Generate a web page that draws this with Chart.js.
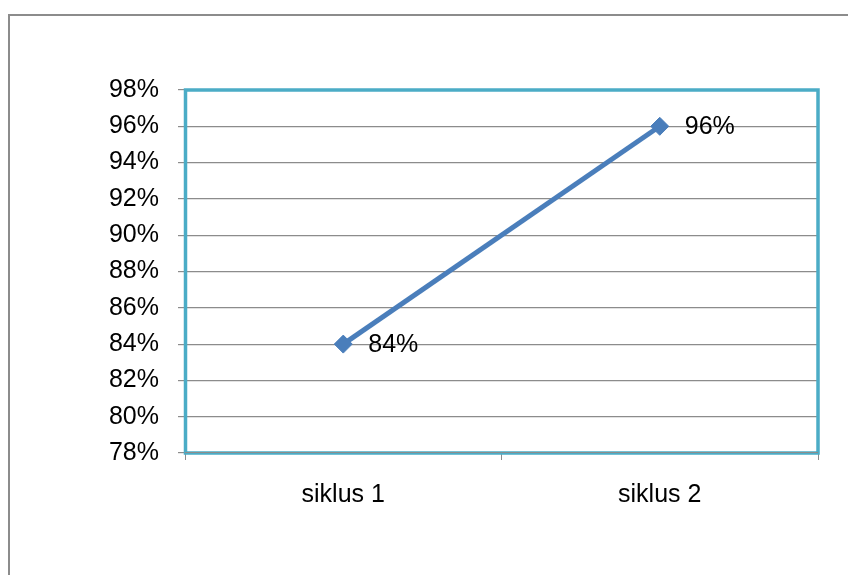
<!DOCTYPE html>
<html>
<head>
<meta charset="utf-8">
<script src="https://cdn.jsdelivr.net/npm/chart.js@4"></script>
<style>
html,body{margin:0;padding:0;background:#fff;}
#wrap{position:relative;width:848px;height:575px;}
</style>
</head>
<body>
<div id="wrap"><canvas id="c" width="848" height="575"></canvas></div>
<script>
const categories = ['siklus 1', 'siklus 2'];
const values = [84, 96];
const yMin = 78, yMax = 98, yStep = 2;

const FONT = 'Liberation Sans, Arial, sans-serif';

const frame = {
  id: 'frame',
  beforeDraw(chart) {
    const ctx = chart.ctx;
    ctx.save();
    ctx.fillStyle = '#fff';
    ctx.fillRect(0, 0, chart.width, chart.height);
    ctx.strokeStyle = '#8c8c8c';
    ctx.lineWidth = 2;
    ctx.strokeRect(9, 15, 900, 700);
    ctx.restore();
  },
  beforeDatasetsDraw(chart) {
    const a = chart.chartArea;
    const ctx = chart.ctx;
    ctx.save();
    ctx.strokeStyle = '#4BACC6';
    ctx.lineWidth = 3.5;
    ctx.strokeRect(a.left + 0.5, a.top, a.right - a.left - 0.5, a.bottom - a.top);
    ctx.strokeStyle = '#8c8c8c';
    ctx.lineWidth = 1;
    ctx.beginPath();
    ctx.moveTo(a.left, a.bottom - 0.5);
    ctx.lineTo(a.right, a.bottom - 0.5);
    ctx.stroke();
    ctx.restore();
  },
  afterDatasetsDraw(chart) {
    const ctx = chart.ctx;
    const meta = chart.getDatasetMeta(0);
    ctx.save();
    ctx.fillStyle = '#000';
    ctx.font = '25px ' + FONT;
    ctx.textAlign = 'left';
    ctx.textBaseline = 'middle';
    meta.data.forEach((pt, i) => {
      ctx.fillText(values[i] + '%', pt.x + 25, pt.y + 1);
    });
    ctx.restore();
  }
};

new Chart(document.getElementById('c'), {
  type: 'line',
  data: {
    labels: categories,
    datasets: [{
      data: values,
      borderColor: '#4A7EBB',
      backgroundColor: '#4A7EBB',
      borderWidth: 5,
      pointStyle: 'rectRot',
      pointRadius: 9,
      pointBorderWidth: 1,
      pointBackgroundColor: '#4A7EBB',
      pointBorderColor: '#4A7EBB',
      tension: 0
    }]
  },
  options: {
    responsive: false,
    animation: false,
    devicePixelRatio: 1,
    layout: { padding: { left: 0, top: 90, right: 30, bottom: 0 } },
    plugins: { legend: { display: false }, tooltip: { enabled: false } },
    scales: {
      x: {
        type: 'category',
        offset: true,
        grid: { offset: true, drawOnChartArea: false, drawTicks: true, tickLength: 7, color: '#8c8c8c', lineWidth: 1 },
        border: { display: false },
        ticks: { color: '#000', font: { family: FONT, size: 25 }, padding: 20, maxRotation: 0 },
        afterFit(s) { s.height = 122; }
      },
      y: {
        min: yMin, max: yMax,
        grid: { color: '#8c8c8c', lineWidth: 1.2, drawTicks: true, tickLength: 7 },
        border: { display: false },
        ticks: { stepSize: yStep, color: '#000', font: { family: FONT, size: 25 }, padding: 19,
          callback: v => v + '%' },
        afterFit(s) { s.width = 185; }
      }
    }
  },
  plugins: [frame]
});
</script>
</body>
</html>
